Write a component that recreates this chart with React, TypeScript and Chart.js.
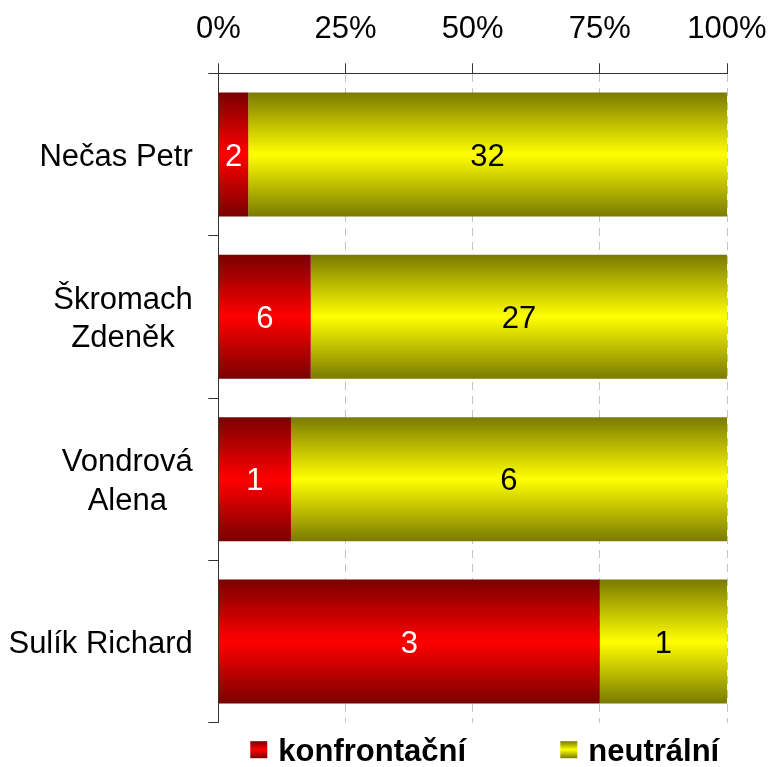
import React, { useEffect, useRef } from "react";
import { Chart, registerables } from "chart.js";

Chart.register(...registerables);

const categories: (string | string[])[] = [
  "Nečas Petr",
  ["Škromach", "Zdeněk"],
  ["Vondrová", "Alena"],
  "Sulík Richard",
];
const seriesNames = ["konfrontační", "neutrální"];
const confrontational = [2, 6, 1, 3];
const neutral = [32, 27, 6, 1];
const tickValues = [0, 25, 50, 75, 100];

const FONT = '"Liberation Sans", Arial, sans-serif';
const FS = 31;
const BAR_PCT = 0.764;

const redStops = ["#7a0000", "#ff0000", "#7a0000"];
const yellowStops = ["#7a7a00", "#ffff00", "#7a7a00"];

function makeGradient(ctx: any, stops: string[], solid: string) {
  const chart = ctx.chart;
  const ys = chart.scales && chart.scales.y;
  if (!ys || ctx.dataIndex === undefined || !ys.height) return solid;
  const c = ys.getPixelForValue(ctx.dataIndex);
  const half = ((ys.height / categories.length) * BAR_PCT) / 2;
  const g = chart.ctx.createLinearGradient(0, c - half, 0, c + half);
  g.addColorStop(0, stops[0]);
  g.addColorStop(0.5, stops[1]);
  g.addColorStop(1, stops[2]);
  return g;
}

const valueLabelPlugin = {
  id: "valueLabels",
  afterDatasetsDraw(chart: any) {
    const ctx = chart.ctx;
    ctx.save();
    ctx.font = `${FS}px ${FONT}`;
    ctx.textAlign = "center";
    ctx.textBaseline = "alphabetic";
    const raws = [confrontational, neutral];
    chart.data.datasets.forEach((_: any, di: number) => {
      const meta = chart.getDatasetMeta(di);
      ctx.fillStyle = di === 0 ? "#ffffff" : "#000000";
      meta.data.forEach((el: any, i: number) => {
        const x = (el.x + el.base) / 2;
        ctx.fillText(String(raws[di][i]), x, el.y + FS * 0.358);
      });
    });
    ctx.restore();
  },
};

const categoryLabelPlugin = {
  id: "categoryLabels",
  afterDraw(chart: any) {
    const ctx = chart.ctx;
    const ys = chart.scales.y;
    const xRight = chart.chartArea.left - 10 - 15.5;
    const lh = 38.5;
    ctx.save();
    ctx.font = `${FS}px ${FONT}`;
    ctx.fillStyle = "#000";
    ctx.textAlign = "center";
    ctx.textBaseline = "alphabetic";
    categories.forEach((lab, i) => {
      const lines = Array.isArray(lab) ? lab : [lab];
      const w = Math.max(...lines.map((l) => ctx.measureText(l).width));
      const cx = xRight - w / 2;
      const cy = ys.getPixelForValue(i);
      const n = lines.length;
      lines.forEach((l, k) => {
        const yc = cy + (k - (n - 1) / 2) * lh;
        ctx.fillText(l, cx, yc + FS * 0.358);
      });
    });
    ctx.restore();
  },
};

const legendPlugin = {
  id: "customLegend",
  afterDraw(chart: any) {
    const ctx = chart.ctx;
    const area = chart.chartArea;
    const yc = area.bottom + 27;
    const box = 17;
    const starts = [area.left + 32, area.left + 342];
    const stops = [redStops, yellowStops];
    ctx.save();
    ctx.font = `bold ${FS}px ${FONT}`;
    ctx.textAlign = "left";
    ctx.textBaseline = "alphabetic";
    seriesNames.forEach((name, i) => {
      const x = starts[i];
      const g = ctx.createLinearGradient(0, yc - box / 2, 0, yc + box / 2);
      g.addColorStop(0, stops[i][0]);
      g.addColorStop(0.5, stops[i][1]);
      g.addColorStop(1, stops[i][2]);
      ctx.fillStyle = g;
      ctx.fillRect(x, yc - box / 2, box, box);
      ctx.fillStyle = "#000";
      ctx.fillText(name, x + box + 11, yc + FS * 0.358);
    });
    ctx.restore();
  },
};

export default function App() {
  const ref = useRef<HTMLCanvasElement>(null);
  useEffect(() => {
    document.body.style.margin = "0";
    const totals = confrontational.map((v, i) => v + neutral[i]);
    const pctA = confrontational.map((v, i) => (v / totals[i]) * 100);
    const pctB = neutral.map((v, i) => (v / totals[i]) * 100);
    const chart = new Chart(ref.current as HTMLCanvasElement, {
      type: "bar",
      data: {
        labels: categories as any,
        datasets: [
          {
            label: seriesNames[0],
            data: pctA,
            backgroundColor: (c: any) => makeGradient(c, redStops, "#ff0000"),
            barPercentage: BAR_PCT,
            categoryPercentage: 1,
          },
          {
            label: seriesNames[1],
            data: pctB,
            backgroundColor: (c: any) => makeGradient(c, yellowStops, "#ffff00"),
            barPercentage: BAR_PCT,
            categoryPercentage: 1,
          },
        ],
      },
      options: {
        indexAxis: "y",
        responsive: false,
        animation: false,
        events: [],
        layout: { padding: { left: 0, top: 0, right: 47, bottom: 44.3 } },
        plugins: {
          legend: { display: false },
          tooltip: { enabled: false },
        },
        scales: {
          x: {
            position: "top",
            stacked: true,
            min: 0,
            max: 100,
            afterBuildTicks: (s: any) => {
              s.ticks = tickValues.map((v) => ({ value: v }));
            },
            afterFit: (s: any) => {
              s.height = 73.3;
              s.paddingLeft = 0;
              s.paddingRight = 0;
            },
            ticks: {
              callback: (v: any) => v + "%",
              font: { family: FONT, size: FS },
              color: "#000",
              padding: 15,
              maxRotation: 0,
            },
            grid: {
              color: (c: any) =>
                c.tick && c.tick.value === 0 ? "rgba(0,0,0,0)" : "#c4c4c4",
              tickColor: "#333",
              tickLength: 10,
              lineWidth: 1,
            },
            border: { color: "#333", width: 1, dash: [8, 6] },
          },
          y: {
            stacked: true,
            afterFit: (s: any) => {
              s.width = 218.3;
            },
            ticks: { display: false },
            grid: {
              drawOnChartArea: false,
              offset: true,
              tickLength: 10,
              tickColor: "#333",
            },
            border: { color: "#333", width: 1 },
          },
        },
      },
      plugins: [valueLabelPlugin, categoryLabelPlugin, legendPlugin],
    });
    return () => chart.destroy();
  }, []);
  return (
    <div style={{ width: 774, height: 767, background: "#fff" }}>
      <canvas ref={ref} width={774} height={767} style={{ display: "block" }} />
    </div>
  );
}
